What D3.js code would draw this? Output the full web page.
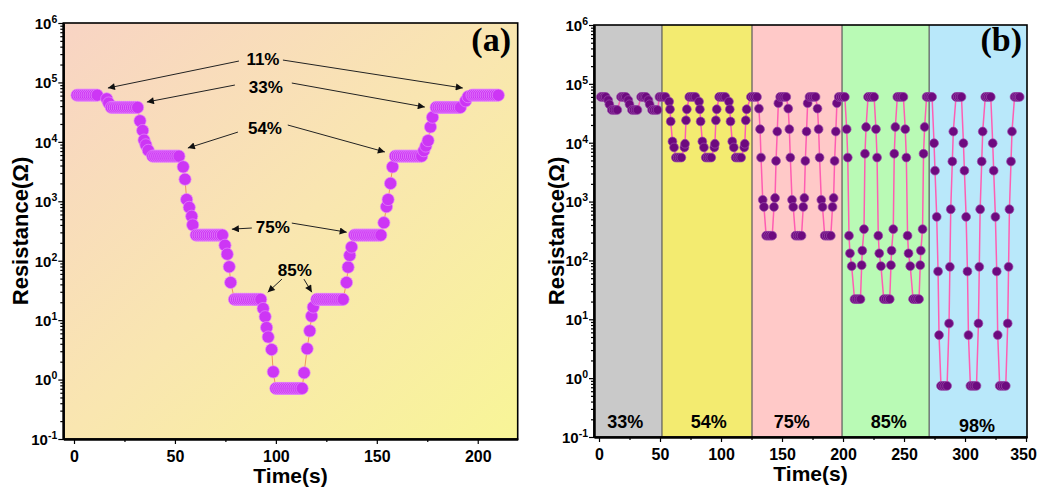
<!DOCTYPE html>
<html>
<head>
<meta charset="utf-8">
<script src="https://cdn.jsdelivr.net/npm/d3@7"></script>
<style>
  body { margin: 0; background: #fff; }
  svg text { font-family: "Liberation Sans", Arial, sans-serif; font-weight: bold; fill: #000; }
</style>
</head>
<body>
<svg id="chart" width="1038" height="490"></svg>
<script>
// ---------- Panel (a): step response across humidity levels ----------
const tA = [
  1.5,2.5,3.5,4.5,5.5,6.5,7.5,8.5,9.5,10.5,11.5,
  16.2,17.2,
  18.5,19.5,20.5,21.5,22.5,23.5,24.5,25.5,26.5,27.5,28.5,29.5,30.5,31.5,
  32.7,34.0,34.7,35.6,36.8,
  39,40,41,42,43,44,45,46,47,48,49,50,51,52,
  54.1,55.0,55.8,57.1,58.3,58.8,
  60.5,61.5,62.5,63.5,64.5,65.5,66.5,67.5,68.5,69.5,70.5,71.5,72.5,73.5,
  74.8,75.9,76.9,77.6,
  79.5,80.5,81.5,82.5,83.5,84.5,85.5,86.5,87.5,88.5,89.5,90.5,91.5,92.5,
  93.7,94.7,95.4,96.2,97.9,98.7,
  100,101,102,103,104,105,106,107,108,109,110,111,112,113,
  114.0,115.5,116.8,117.7,118.5,
  120.3,121.3,122.3,123.3,124.3,125.3,126.3,127.3,128.3,129.3,130.3,131.3,132.3,133.3,
  135.0,135.8,136.6,137.5,
  139,140,141,142,143,144,145,146,147,148,149,150,151,152,
  153.5,154.8,155.6,156.8,157.8,
  159.2,160.2,161.2,162.2,163.2,164.2,165.2,166.2,167.2,168.2,169.2,170.2,171.2,172.2,
  173.3,174.3,175.4,176.6,177.6,
  179.4,180.4,181.4,182.4,183.4,184.4,185.4,186.4,187.4,188.4,189.4,190.4,191.4,
  194.0,195.2,
  197.2,198.2,199.2,200.2,201.2,202.2,203.2,204.2,205.2,206.2,207.2,208.2,209.2,210.2
];
const rA = [
  6.1e4,6.1e4,6.1e4,6.1e4,6.1e4,6.1e4,6.1e4,6.1e4,6.1e4,6.1e4,6.1e4,
  5.3e4,4.5e4,
  3.8e4,3.8e4,3.8e4,3.8e4,3.8e4,3.8e4,3.8e4,3.8e4,3.8e4,3.8e4,3.8e4,3.8e4,3.8e4,3.8e4,
  2.26e4,1.55e4,1.07e4,8.9e3,7.2e3,
  5.75e3,5.75e3,5.75e3,5.75e3,5.75e3,5.75e3,5.75e3,5.75e3,5.75e3,5.75e3,5.75e3,5.75e3,5.75e3,5.75e3,
  3.8e3,2.35e3,1.07e3,790,560,400,
  270,270,270,270,270,270,270,270,270,270,270,270,270,270,
  182,129,79,43,
  22.4,22.4,22.4,22.4,22.4,22.4,22.4,22.4,22.4,22.4,22.4,22.4,22.4,22.4,
  15.7,11.4,7.5,5.2,3.2,1.35,
  0.71,0.71,0.71,0.71,0.71,0.71,0.71,0.71,0.71,0.71,0.71,0.71,0.71,0.71,
  1.3,3.3,6.6,11.7,16.6,
  22.4,22.4,22.4,22.4,22.4,22.4,22.4,22.4,22.4,22.4,22.4,22.4,22.4,22.4,
  43,78,123,170,
  270,270,270,270,270,270,270,270,270,270,270,270,270,270,
  436,810,1.07e3,2.0e3,3.8e3,
  5.75e3,5.75e3,5.75e3,5.75e3,5.75e3,5.75e3,5.75e3,5.75e3,5.75e3,5.75e3,5.75e3,5.75e3,5.75e3,5.75e3,
  7.1e3,8.5e3,1.05e4,1.78e4,2.6e4,
  3.8e4,3.8e4,3.8e4,3.8e4,3.8e4,3.8e4,3.8e4,3.8e4,3.8e4,3.8e4,3.8e4,3.8e4,3.8e4,
  4.9e4,5.75e4,
  6.1e4,6.1e4,6.1e4,6.1e4,6.1e4,6.1e4,6.1e4,6.1e4,6.1e4,6.1e4,6.1e4,6.1e4,6.1e4,6.1e4
];

// humidity callouts: label anchor and arrow (from -> to) in data units
const annText   = ["11%", "33%", "54%", "75%", "85%"];
const annLabelT = [93.6, 95, 94.6, 98.5, 109.4];
const annLabelR = [2.48e5, 8.3e4, 1.71e4, 368, 69.5];
const arrowFromT = [81.7, 103.5, 79.7, 107.9, 81.2, 105.9, 88.1, 107.9, 103, 113.9];
const arrowFromR = [2.29e5, 2.38e5, 9.04e4, 9.77e4, 1.46e4, 1.92e4, 355, 430, 49, 49];
const arrowToT   = [16.8, 192.6, 36.1, 173.8, 56.4, 154, 78.2, 135.1, 96, 117.8];
const arrowToR   = [8.05e4, 8.05e4, 4.68e4, 3.85e4, 7.87e3, 6.76e3, 340, 302, 29.5, 29.5];

// ---------- Panel (b): repeated cycling at each humidity ----------
const tB33 = [1.5,2.8,4.2,5.5, 7.5,8.5, 10.5,12,13.5,15,
              18,19.3,20.7,22, 24,25, 27,28.5,30,31.5,
              34.5,35.8,37.2,38.5, 40.5,41.5, 43.5,45,46.5,48];
const rB33 = [6e4,6e4,6e4,6e4, 5.3e4,4.5e4, 3.6e4,3.6e4,3.6e4,3.6e4,
              6e4,6e4,6e4,6e4, 5.3e4,4.5e4, 3.6e4,3.6e4,3.6e4,3.6e4,
              6e4,6e4,6e4,6e4, 5.3e4,4.5e4, 3.6e4,3.6e4,3.6e4,3.6e4];

const tB54 = [49.5,51.2,52.8,54.5, 57.5,58.2,58.8,60.2,61.5, 63,64.5,66,67.5, 70,70.5,71.3,72,
              74,75.7,77.3,79, 82,82.7,83.3,84.7,86, 87.5,89,90.5,92, 94.5,95,95.8,96.5,
              98.5,100.2,101.8,103.5, 106.5,107.2,107.8,109.2,110.5, 112,113.5,115,116.5, 119,119.5,120.3,121];
const rB54 = [6e4,6e4,6e4,6e4, 5.0e4,3.7e4,2.3e4,1.05e4,8.3e3, 5.6e3,5.6e3,5.6e3,5.6e3, 8.3e3,9.6e3,2.4e4,3.7e4,
              6e4,6e4,6e4,6e4, 5.0e4,3.7e4,2.3e4,1.05e4,8.3e3, 5.6e3,5.6e3,5.6e3,5.6e3, 8.3e3,9.6e3,2.4e4,3.7e4,
              6e4,6e4,6e4,6e4, 5.0e4,3.7e4,2.3e4,1.05e4,8.3e3, 5.6e3,5.6e3,5.6e3,5.6e3, 8.3e3,9.6e3,2.4e4,3.7e4];

const tB75 = [124.5,126.2,127.8,129.5, 131.1,132,132.8,134.2,135.2, 137,138.7,140.3,142, 143.4,144.3,145.1,146.1,147,
              148.5,150.2,151.8,153.5, 155.1,156,156.8,158.2,159.2, 161,162.7,164.3,166, 167.4,168.3,169.1,170.1,171,
              172.5,174.2,175.8,177.5, 179.1,180,180.8,182.2,183.2, 185,186.7,188.3,190, 191.4,192.3,193.1,194.1,195];
const rB75 = [6e4,6e4,6e4,6e4, 3.8e4,1.7e4,5.6e3,1.07e3,810, 263,263,263,263, 810,1.15e3,4.9e3,1.55e4,4.7e4,
              6e4,6e4,6e4,6e4, 3.8e4,1.7e4,5.6e3,1.07e3,810, 263,263,263,263, 810,1.15e3,4.9e3,1.55e4,4.7e4,
              6e4,6e4,6e4,6e4, 3.8e4,1.7e4,5.6e3,1.07e3,810, 263,263,263,263, 810,1.15e3,4.9e3,1.55e4,4.7e4];

const tB85 = [196.5,198.2,199.8,201.5, 203,203.9,204.9,205.7,207.1, 209.4,211,212.7,214.3, 215.3,215.8,217.2,218,218.9,
              220.5,222.2,223.8,225.5, 227,227.9,228.9,229.7,231.1, 233.4,235,236.7,238.3, 239.3,239.8,241.2,242,242.9,
              244.5,246.2,247.8,249.5, 251,251.9,252.9,253.7,255.1, 257.4,259,260.7,262.3, 263.3,263.8,265.2,266,266.9];
const rB85 = [6e4,6e4,6e4,6e4, 1.7e4,5.6e3,263,132,80, 22,22,22,22, 83,147,340,6.5e3,1.85e4,
              6e4,6e4,6e4,6e4, 1.7e4,5.6e3,263,132,80, 22,22,22,22, 83,147,340,6.5e3,1.85e4,
              6e4,6e4,6e4,6e4, 1.7e4,5.6e3,263,132,80, 22,22,22,22, 83,147,340,6.5e3,1.85e4];

const tB98 = [268.5,270,271.5,273, 274.6,275.4,276.8,277.9,278.7, 280.3,282,283.6,285.3, 286.9,287.6,288.3,289.6,290.4,
              292.6,294.1,295.6,297.1, 298.7,299.5,300.9,302,302.8, 304.4,306.1,307.7,309.4, 311,311.7,312.4,313.7,314.5,
              316.6,318.1,319.6,321.1, 322.7,323.5,324.9,326,326.8, 328.4,330.1,331.7,333.4, 335,335.7,336.4,337.7,338.5,
              340.6,342.1,343.6,344.8];
const rB98 = [6e4,6e4,6e4,6e4, 9.8e3,3.35e3,550,65,5.4, 0.74,0.74,0.74,0.74, 8.5,78,740,4.8e3,1.55e4,
              6e4,6e4,6e4,6e4, 9.8e3,3.35e3,550,65,5.4, 0.74,0.74,0.74,0.74, 8.5,78,740,4.8e3,1.55e4,
              6e4,6e4,6e4,6e4, 9.8e3,3.35e3,550,65,5.4, 0.74,0.74,0.74,0.74, 8.5,78,740,4.8e3,1.55e4,
              6e4,6e4,6e4,6e4];

// humidity bands behind panel (b)
const bandStart  = [-4.1, 51.6, 125.4, 199.2, 270.6];
const bandEnd    = [51.6, 125.4, 199.2, 270.6, 350.8];
const bandText   = ["33%", "54%", "75%", "85%", "98%"];
const bandColor  = ["#c9c9c9", "#f3eb70", "#ffc9c8", "#b9fab5", "#b9e8fa"];
const bandLabelT = [21.6, 89.9, 158, 237.5, 309.8];
const bandLabelR = [0.1406, 0.1406, 0.1406, 0.1406, 0.123];

// axis ticks
const xTicksA = [0, 50, 100, 150, 200];
const xMinorA = [25, 75, 125, 175];
const xTicksB = [0, 50, 100, 150, 200, 250, 300, 350];
const xMinorB = [25, 75, 125, 175, 225, 275, 325];
const yExponents = [-1, 0, 1, 2, 3, 4, 5, 6];

// ---------- drawing ----------
const svg = d3.select("#chart");

const xA = d3.scaleLinear().domain([-5.3, 219.8]).range([63.3, 517.7]);
const yA = d3.scaleLog().domain([0.1, 1e6]).range([439, 23]);
const xB = d3.scaleLinear().domain([-4.1, 350.8]).range([594, 1027]);
const yB = d3.scaleLog().domain([0.1, 1e6]).range([437, 25]);

const defs = svg.append("defs");
const grad = defs.append("linearGradient").attr("id", "bgA")
  .attr("x1", "0").attr("y1", "0").attr("x2", "1").attr("y2", "1");
grad.append("stop").attr("offset", "0").attr("stop-color", "#f8d4c4");
grad.append("stop").attr("offset", "0.5").attr("stop-color", "#f9e6b0");
grad.append("stop").attr("offset", "1").attr("stop-color", "#f8f597");

defs.append("marker").attr("id", "head")
  .attr("viewBox", "0 0 10 10").attr("refX", 10).attr("refY", 5)
  .attr("markerUnits", "userSpaceOnUse").attr("markerWidth", 10).attr("markerHeight", 7)
  .attr("orient", "auto")
  .append("path").attr("d", "M0,0 L10,5 L0,10 Z").attr("fill", "#111");

function yAxis(g, y, x0) {
  const majors = yExponents.map(e => Math.pow(10, e));
  const minors = [];
  for (let i = 0; i < yExponents.length - 1; i++)
    for (let m = 2; m <= 9; m++) minors.push(m * Math.pow(10, yExponents[i]));
  g.append("g").attr("transform", `translate(${x0},0)`)
    .call(d3.axisLeft(y).tickValues(minors).tickSize(3).tickSizeOuter(0).tickFormat(""));
  const gMaj = g.append("g").attr("transform", `translate(${x0},0)`)
    .call(d3.axisLeft(y).tickValues(majors).tickSize(5).tickSizeOuter(0).tickPadding(1).tickFormat(""));
  gMaj.attr("font-family", null).attr("font-size", 15);
  gMaj.selectAll(".tick text").attr("dy", "0.36em").each(function (d) {
    const t = d3.select(this);
    t.append("tspan").text("10");
    t.append("tspan").attr("dy", -6).attr("font-size", 10.5).text(String(Math.round(Math.log10(d))));
  });
  g.selectAll(".domain").attr("stroke-width", 2);
  g.selectAll(".tick line").attr("stroke-width", 1.2);
}

function xAxis(g, x, y0, majors, minors) {
  g.append("g").attr("transform", `translate(0,${y0})`)
    .call(d3.axisBottom(x).tickValues(minors).tickSize(3).tickSizeOuter(0).tickFormat(""));
  const gMaj = g.append("g").attr("transform", `translate(0,${y0})`)
    .call(d3.axisBottom(x).tickValues(majors).tickSize(5).tickSizeOuter(0).tickPadding(7));
  gMaj.attr("font-family", null).attr("font-size", 16);
  // keep the last label inside the page edge
  const last = x.range()[1];
  gMaj.selectAll(".tick text").filter(d => x(d) + 14 > 1038).attr("dx", d => 1036 - 13 - x(d));
  g.selectAll(".domain").attr("stroke-width", 2);
  g.selectAll(".tick line").attr("stroke-width", 1.2);
}

// ----- panel (a) -----
const gA = svg.append("g");
const [ax0, ax1] = xA.range(), [ay0, ay1] = yA.range();
gA.append("rect").attr("x", ax0).attr("y", ay1).attr("width", ax1 - ax0).attr("height", ay0 - ay1)
  .attr("fill", "url(#bgA)");

const ptsA = d3.zip(tA, rA);
gA.append("path").datum(ptsA)
  .attr("d", d3.line().x(d => xA(d[0])).y(d => yA(d[1])))
  .attr("fill", "none").attr("stroke", "#f2975a").attr("stroke-width", 1);
gA.selectAll("circle.pa").data(ptsA).join("circle").attr("class", "pa")
  .attr("cx", d => xA(d[0])).attr("cy", d => yA(d[1])).attr("r", 6.1)
  .attr("fill", "#cd36f5").attr("stroke", "#e589fb").attr("stroke-width", 0.7);

gA.selectAll("line.arrow").data(d3.range(arrowFromT.length)).join("line").attr("class", "arrow")
  .attr("x1", i => xA(arrowFromT[i])).attr("y1", i => yA(arrowFromR[i]))
  .attr("x2", i => xA(arrowToT[i])).attr("y2", i => yA(arrowToR[i]))
  .attr("stroke", "#222").attr("stroke-width", 1).attr("marker-end", "url(#head)");
gA.selectAll("text.ann").data(annText).join("text").attr("class", "ann")
  .attr("x", (d, i) => xA(annLabelT[i])).attr("y", (d, i) => yA(annLabelR[i]))
  .attr("dy", "0.36em").attr("text-anchor", "middle").attr("font-size", 17).text(d => d);

gA.append("rect").attr("x", ax0).attr("y", ay1).attr("width", ax1 - ax0).attr("height", ay0 - ay1)
  .attr("fill", "none").attr("stroke", "#000").attr("stroke-width", 1.6);
yAxis(gA.append("g"), yA, ax0);
xAxis(gA.append("g"), xA, ay0, xTicksA, xMinorA);

gA.append("text").attr("x", (ax0 + ax1) / 2).attr("y", 483).attr("text-anchor", "middle")
  .attr("font-size", 21).text("Time(s)");
gA.append("text").attr("transform", `translate(28,${(ay0 + ay1) / 2}) rotate(-90)`)
  .attr("text-anchor", "middle").attr("font-size", 22).text("Resistance(Ω)");
gA.append("text").attr("x", 511).attr("y", 51).attr("text-anchor", "end")
  .style("font-family", '"Liberation Serif", "Times New Roman", serif').attr("font-size", 34).text("(a)");

// ----- panel (b) -----
const gB = svg.append("g");
const [bx0, bx1] = xB.range(), [by0, by1] = yB.range();
gB.selectAll("rect.band").data(bandText).join("rect").attr("class", "band")
  .attr("x", (d, i) => xB(bandStart[i])).attr("y", by1)
  .attr("width", (d, i) => xB(bandEnd[i]) - xB(bandStart[i])).attr("height", by0 - by1)
  .attr("fill", (d, i) => bandColor[i]);
gB.selectAll("line.sep").data(bandStart.slice(1)).join("line").attr("class", "sep")
  .attr("x1", d => xB(d)).attr("x2", d => xB(d)).attr("y1", by1).attr("y2", by0)
  .attr("stroke", "#5a5a5a").attr("stroke-width", 1.2);

const ptsB = d3.zip(tB33.concat(tB54, tB75, tB85, tB98), rB33.concat(rB54, rB75, rB85, rB98));
gB.append("path").datum(ptsB)
  .attr("d", d3.line().x(d => xB(d[0])).y(d => yB(d[1])))
  .attr("fill", "none").attr("stroke", "#ff5db2").attr("stroke-width", 1.5);
gB.selectAll("circle.pb").data(ptsB).join("circle").attr("class", "pb")
  .attr("cx", d => xB(d[0])).attr("cy", d => yB(d[1])).attr("r", 4.4)
  .attr("fill", "#6d0a7f").attr("stroke", "#9a4aa9").attr("stroke-width", 0.7);

gB.selectAll("text.band").data(bandText).join("text").attr("class", "band")
  .attr("x", (d, i) => xB(bandLabelT[i])).attr("y", (d, i) => yB(bandLabelR[i]))
  .attr("text-anchor", "middle").attr("font-size", 18).text(d => d);

gB.append("rect").attr("x", bx0).attr("y", by1).attr("width", bx1 - bx0).attr("height", by0 - by1)
  .attr("fill", "none").attr("stroke", "#000").attr("stroke-width", 1.6);
yAxis(gB.append("g"), yB, bx0);
xAxis(gB.append("g"), xB, by0, xTicksB, xMinorB);

gB.append("text").attr("x", (bx0 + bx1) / 2).attr("y", 481).attr("text-anchor", "middle")
  .attr("font-size", 21).text("Time(s)");
gB.append("text").attr("transform", `translate(564,${(by0 + by1) / 2}) rotate(-90)`)
  .attr("text-anchor", "middle").attr("font-size", 22).text("Resistance(Ω)");
gB.append("text").attr("x", 1022).attr("y", 51).attr("text-anchor", "end")
  .style("font-family", '"Liberation Serif", "Times New Roman", serif').attr("font-size", 34).text("(b)");
</script>
</body>
</html>
